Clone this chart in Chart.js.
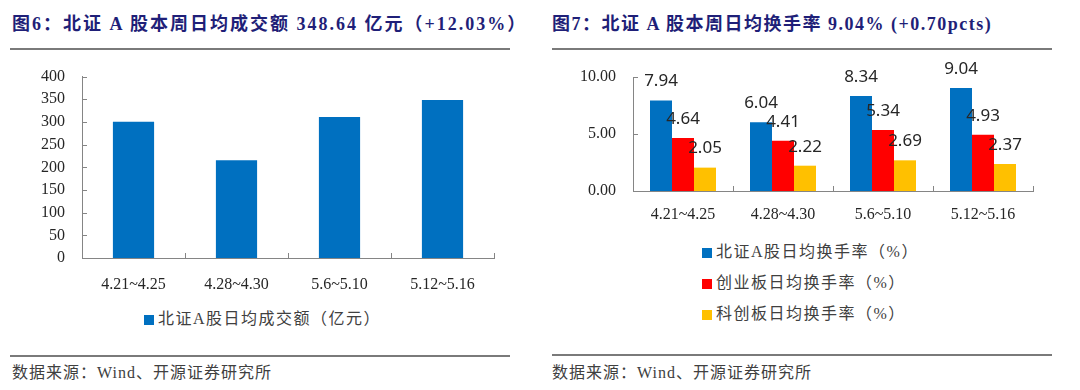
<!DOCTYPE html>
<html>
<head>
<meta charset="utf-8">
<script src="https://cdn.jsdelivr.net/npm/chart.js@4/dist/chart.umd.min.js"></script>
<style>
  body { margin: 0; background: #fff; width: 1080px; height: 390px; position: relative; overflow: hidden; }
  .title { position: absolute; top: 9px; font: bold 18px "Liberation Serif", "Noto Sans CJK SC", serif; color: #1f1f78; letter-spacing: 1.5px; white-space: nowrap; }
  .rule { position: absolute; height: 2px; width: 500px; background: #7a7a7a; }
  .source { position: absolute; top: 359px; font: 16px "Liberation Serif", "Noto Sans CJK SC", serif; color: #404040; letter-spacing: 1px; white-space: nowrap; }
  .box { position: absolute; }
  .legend { position: absolute; font: 16px "Liberation Serif", "Noto Sans CJK SC", serif; color: #404040; letter-spacing: 1.5px; white-space: nowrap; }
  .legend div { height: 31px; line-height: 20px; }
  .legend span.sw { display: inline-block; width: 10px; height: 10px; margin-right: 4px; vertical-align: -1px; }
</style>
</head>
<body>

<div class="title" style="left:12px; letter-spacing:2px">图6：北证 A 股本周日均成交额 348.64 亿元（+12.03%）</div>
<div class="rule" style="left:10px; top:48px"></div>
<div class="title" style="left:552px">图7：北证 A 股本周日均换手率 9.04% (+0.70pcts)</div>
<div class="rule" style="left:552px; top:48px"></div>

<div class="box" style="left:0; top:50px; width:540px; height:250px"><canvas id="volChart"></canvas></div>
<div class="box" style="left:540px; top:50px; width:540px; height:180px"><canvas id="turnChart"></canvas></div>

<div class="legend" id="volLegend" style="left:144px; top:309px"></div>
<div class="legend" id="turnLegend" style="left:702px; top:242px"></div>

<div class="rule" style="left:10px; top:355px"></div>
<div class="source" style="left:12px">数据来源：Wind、开源证券研究所</div>
<div class="rule" style="left:552px; top:354px"></div>
<div class="source" style="left:552px">数据来源：Wind、开源证券研究所</div>

<script>
// weeks on the x axis
const weeks = ['4.21~4.25', '4.28~4.30', '5.6~5.10', '5.12~5.16'];

// 北证A股日均成交额（亿元）
const volLabel = '北证A股日均成交额（亿元）';
const volValues = [300.5, 215.3, 311.0, 348.64];

// daily average turnover rates (%)
const bzLabel = '北证A股日均换手率（%）';
const bzValues = [7.94, 6.04, 8.34, 9.04];
const cybLabel = '创业板日均换手率（%）';
const cybValues = [4.64, 4.41, 5.34, 4.93];
const kcbLabel = '科创板日均换手率（%）';
const kcbValues = [2.05, 2.22, 2.69, 2.37];

const BLUE = '#0070C0';
const RED = '#FF0000';
const GOLD = '#FFC000';
const AXIS = '#858585';
const tickFont = { family: '"Liberation Serif", serif', size: 16 };

// short tick marks drawn inside the plot, like the Excel original
const innerTicks = {
    id: 'innerTicks',
    afterDraw(chart) {
        const { ctx, chartArea, scales } = chart;
        ctx.save();
        ctx.strokeStyle = AXIS;
        ctx.lineWidth = 1;
        ctx.beginPath();
        scales.y.ticks.forEach(t => {
            const y = Math.round(scales.y.getPixelForValue(t.value)) + 0.5;
            ctx.moveTo(chartArea.left, y);
            ctx.lineTo(chartArea.left + 5, y);
        });
        const n = scales.x.ticks.length;
        const step = (chartArea.right - chartArea.left) / n;
        for (let i = 1; i <= n; i++) {
            const x = Math.round(chartArea.left + i * step) + 0.5;
            ctx.moveTo(x, chartArea.bottom);
            ctx.lineTo(x, chartArea.bottom - 5);
        }
        ctx.stroke();
        ctx.restore();
    }
};

// value labels above the bars
const barLabels = {
    id: 'barLabels',
    afterDatasetsDraw(chart, args, opts) {
        if (!opts.show) return;
        const { ctx } = chart;
        ctx.save();
        ctx.font = '17px "Noto Sans", sans-serif';
        ctx.fillStyle = '#262626';
        ctx.textAlign = 'center';
        ctx.textBaseline = 'middle';
        chart.data.datasets.forEach((ds, i) => {
            chart.getDatasetMeta(i).data.forEach((bar, j) => {
                ctx.fillText(ds.data[j].toFixed(2), bar.x, bar.y - 19);
            });
        });
        ctx.restore();
    }
};

function makeLegend(el, items) {
    items.forEach(([label, color]) => {
        const row = document.createElement('div');
        row.innerHTML = `<span class="sw" style="background:${color}"></span>${label}`;
        el.appendChild(row);
    });
}

function axes(yMax, yStep, yWidth, xHeight, xPad, fmt) {
    return {
        x: {
            grid: { display: false, drawTicks: false },
            border: { display: true, color: AXIS },
            ticks: { font: tickFont, color: '#262626', padding: xPad, maxRotation: 0 },
            afterFit: s => { s.height = xHeight; }
        },
        y: {
            min: 0, max: yMax,
            grid: { display: false, drawTicks: false },
            border: { display: true, color: AXIS },
            ticks: { stepSize: yStep, font: tickFont, color: '#262626', padding: 17, callback: fmt },
            afterFit: s => { s.width = yWidth; }
        }
    };
}

new Chart(document.getElementById('volChart'), {
    type: 'bar',
    data: {
        labels: weeks,
        datasets: [{ label: volLabel, data: volValues, backgroundColor: BLUE, categoryPercentage: 0.8, barPercentage: 0.5 }]
    },
    options: {
        responsive: true, maintainAspectRatio: false, animation: false,
        layout: { padding: { top: 20, right: 46, left: 0, bottom: 0 } },
        plugins: { legend: { display: false }, tooltip: { enabled: false }, barLabels: { show: false } },
        scales: axes(400, 50, 82, 42, 17, v => v)
    },
    plugins: [innerTicks, barLabels]
});

new Chart(document.getElementById('turnChart'), {
    type: 'bar',
    data: {
        labels: weeks,
        datasets: [
            { label: bzLabel, data: bzValues, backgroundColor: BLUE },
            { label: cybLabel, data: cybValues, backgroundColor: RED },
            { label: kcbLabel, data: kcbValues, backgroundColor: GOLD }
        ].map(d => Object.assign(d, { categoryPercentage: 0.66, barPercentage: 1 }))
    },
    options: {
        responsive: true, maintainAspectRatio: false, animation: false,
        layout: { padding: { top: 27, right: 47, left: 0, bottom: 0 } },
        plugins: { legend: { display: false }, tooltip: { enabled: false }, barLabels: { show: true } },
        scales: axes(10, 5, 93, 39, 14, v => v.toFixed(2))
    },
    plugins: [innerTicks, barLabels]
});

makeLegend(document.getElementById('volLegend'), [[volLabel, BLUE]]);
makeLegend(document.getElementById('turnLegend'), [[bzLabel, BLUE], [cybLabel, RED], [kcbLabel, GOLD]]);
</script>
</body>
</html>
